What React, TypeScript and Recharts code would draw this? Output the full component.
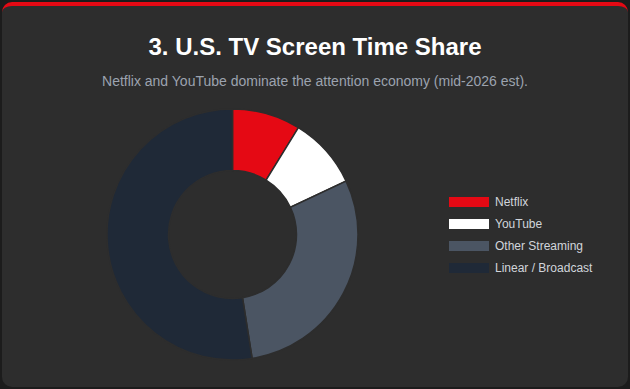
import { PieChart, Pie, Cell, Legend } from "recharts";

const categories = ["Netflix", "YouTube", "Other Streaming", "Linear / Broadcast"];
const shares = [8.8, 9.2, 29.5, 52.5];
const colors = ["#e50914", "#ffffff", "#4b5563", "#1f2937"];

const data = categories.map((name, i) => ({ name, value: shares[i] }));

const renderLegend = () => (
    <div style={{ display: "flex", flexDirection: "column" }}>
        {categories.map((name, i) => (
            <div key={name} style={{ display: "flex", alignItems: "center", height: 22 }}>
                <span style={{ width: 40, height: 10, background: colors[i], display: "inline-block" }} />
                <span style={{ marginLeft: 6, fontSize: 12, color: "#d1d5db" }}>{name}</span>
            </div>
        ))}
    </div>
);

const App = () => {
    return (
        <div
            style={{
                position: "absolute",
                left: 0,
                top: 0,
                width: 630,
                height: 389,
                background: "#1c1c1c",
                fontFamily: "'Liberation Sans', Arial, sans-serif",
            }}
        >
            <div
                style={{
                    position: "absolute",
                    left: 2,
                    top: 2,
                    width: 626,
                    height: 385,
                    boxSizing: "border-box",
                    background: "#2d2d2d",
                    borderTop: "4px solid #e50914",
                    borderRadius: 10,
                }}
            >
                <div
                    style={{
                        position: "absolute",
                        top: 27,
                        width: "100%",
                        textAlign: "center",
                        color: "#ffffff",
                        fontWeight: "bold",
                        fontSize: 24,
                    }}
                >
                    3. U.S. TV Screen Time Share
                </div>
                <div
                    style={{
                        position: "absolute",
                        top: 67,
                        width: "100%",
                        textAlign: "center",
                        color: "#9ca3af",
                        fontSize: 14,
                    }}
                >
                    Netflix and YouTube dominate the attention economy (mid-2026 est).
                </div>
            </div>
            <div style={{ position: "absolute", left: 0, top: 100 }}>
                <PieChart width={630} height={280} margin={{ top: 0, right: 0, bottom: 0, left: 0 }}>
                    <Pie
                        data={data}
                        dataKey="value"
                        nameKey="name"
                        cx={232.5}
                        cy={134.5}
                        innerRadius={64}
                        outerRadius={125.5}
                        startAngle={90}
                        endAngle={-270}
                        stroke="#2d2d2d"
                        strokeWidth={1.5}
                        isAnimationActive={false}
                    >
                        {data.map((d, i) => (
                            <Cell key={d.name} fill={colors[i]} />
                        ))}
                    </Pie>
                    <Legend
                        content={renderLegend}
                        wrapperStyle={{ position: "absolute", left: 449, top: 91, width: 170 }}
                    />
                </PieChart>
            </div>
        </div>
    );
};

export default App;
